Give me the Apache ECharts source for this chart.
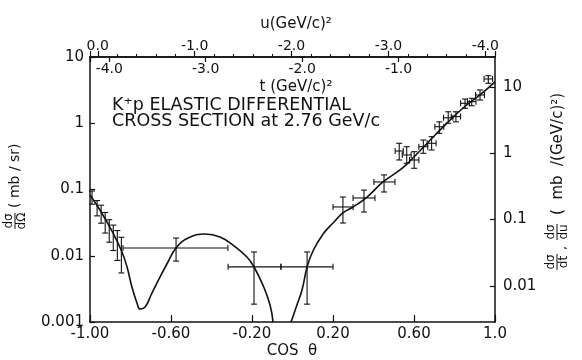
<!DOCTYPE html>
<html><head><meta charset="utf-8">
<script src="https://cdn.jsdelivr.net/npm/echarts@6/dist/echarts.min.js"></script>
<style>html,body{margin:0;padding:0;background:#fff}#c{width:582px;height:360px}</style>
</head><body><div id="c"></div>
<script>
// ---- data ----
// theoretical curve (cos theta, dσ/dΩ in mb/sr); null = curve leaves the plot
const curveCos = [-1.0, -0.951, -0.886, -0.842, -0.817, -0.793, -0.768, -0.753, -0.728, -0.694, -0.654, -0.615, -0.575, -0.516, -0.432, -0.358, -0.294, -0.225, -0.190, -0.146, -0.111, -0.096, -0.05, -0.007, 0.022, 0.047, 0.072, 0.101, 0.151, 0.200, 0.249, 0.299, 0.368, 0.447, 0.531, 0.580, 0.714, 0.842, 0.926, 1.0];
const curveVal = [0.0826, 0.049, 0.022, 0.0114, 0.00676, 0.00337, 0.00194, 0.00157, 0.00168, 0.00274, 0.00478, 0.00805, 0.0131, 0.0185, 0.0213, 0.0192, 0.0145, 0.00957, 0.00676, 0.00361, 0.00181, 0.001, null, 0.001, 0.00181, 0.00304, 0.00676, 0.0118, 0.0213, 0.0312, 0.0442, 0.0545, 0.077, 0.130, 0.197, 0.269, 0.713, 1.70, 2.67, 4.20];

// backward data points (vertical error bars only)
const backCos = [-0.99, -0.965, -0.945, -0.925, -0.905, -0.885, -0.865, -0.845];
const backVal = [0.077, 0.0526, 0.0427, 0.0323, 0.0245, 0.0199, 0.0156, 0.0118];
const backLo  = [0.060, 0.040, 0.031, 0.022, 0.016, 0.012, 0.0085, 0.0055];
const backHi  = [0.095, 0.068, 0.058, 0.045, 0.035, 0.029, 0.024, 0.019];

// wide-bin data points
const wideCos = [-0.575, -0.19, 0.072];
const wideVal = [0.0131, 0.0068, 0.0068];
const wideXLo = [-0.837, -0.318, -0.057];
const wideXHi = [-0.319, -0.057, 0.200];
const wideLo  = [0.0083, 0.00186, 0.00186];
const wideHi  = [0.0185, 0.0114, 0.0114];

// forward data points
const fwdCos = [0.249, 0.353, 0.452, 0.527, 0.564, 0.601, 0.646, 0.687, 0.725, 0.769, 0.807, 0.852, 0.885, 0.926, 0.967];
const fwdVal = [0.0545, 0.0745, 0.130, 0.381, 0.332, 0.279, 0.443, 0.498, 0.887, 1.21, 1.26, 2.0, 2.12, 2.67, 4.66];
const fwdXLo = [0.200, 0.299, 0.402, 0.507, 0.542, 0.578, 0.624, 0.665, 0.703, 0.746, 0.784, 0.830, 0.864, 0.904, 0.946];
const fwdXHi = [0.299, 0.407, 0.506, 0.547, 0.586, 0.624, 0.668, 0.709, 0.747, 0.792, 0.830, 0.874, 0.906, 0.948, 0.988];
const fwdLo  = [0.0312, 0.0457, 0.0917, 0.279, 0.249, 0.209, 0.352, 0.395, 0.705, 1.0, 1.05, 1.68, 1.84, 2.24, 4.01];
const fwdHi  = [0.077, 0.098, 0.166, 0.498, 0.443, 0.372, 0.558, 0.627, 1.05, 1.49, 1.49, 2.32, 2.38, 3.18, 5.22];

// axis tick labels
const cosTicks = ['-1.00', '-0.60', '-0.20', '0.20', '0.60', '1.0'];

// ---- build chart ----
const FONT = '"DejaVu Sans", sans-serif';
const INK = '#111';
const curveData = curveCos.map((c, i) => [c, curveVal[i] === null ? '-' : curveVal[i]]);
const errData = [];
backCos.forEach((c, i) => errData.push([c, backVal[i], c, c, backLo[i], backHi[i]]));
wideCos.forEach((c, i) => errData.push([c, wideVal[i], wideXLo[i], wideXHi[i], wideLo[i], wideHi[i]]));
fwdCos.forEach((c, i) => errData.push([c, fwdVal[i], fwdXLo[i], fwdXHi[i], fwdLo[i], fwdHi[i]]));

function isPow10(v) { const l = Math.log10(v); return Math.abs(l - Math.round(l)) < 1e-6; }
function isInt(v) { return Math.abs(v - Math.round(v)) < 1e-6; }
const axLine = { onZero: false, lineStyle: { color: INK, width: 1.5 } };
const lbl = { color: INK, fontFamily: FONT, fontSize: 14 };

const chart = echarts.init(document.getElementById('c'));
chart.setOption({
  animation: false,
  backgroundColor: '#fff',
  grid: [
    { left: 90, right: 87, top: 57, bottom: 38 },
    { left: 90, right: 87, top: 57, bottom: 38 }
  ],
  xAxis: [
    { type: 'value', gridIndex: 0, position: 'bottom', min: -1, max: 1, interval: 0.4,
      axisLine: axLine, splitLine: { show: false },
      axisTick: { inside: true, length: 7, lineStyle: { color: INK, width: 1.2 } },
      axisLabel: Object.assign({}, lbl, { fontSize: 15, margin: 5,
        formatter: v => { const k = Math.round((v + 1) / 0.4); return cosTicks[k] !== undefined && Math.abs(v - (-1 + 0.4 * k)) < 1e-6 ? cosTicks[k] : ''; } }) },
    { type: 'value', gridIndex: 0, position: 'top', min: -4.1, max: 0.08, inverse: true,
      axisLine: axLine, splitLine: { show: false },
      axisTick: { inside: false, length: 6, lineStyle: { color: INK, width: 1.2 } },
      minorTick: { show: true, splitNumber: 5, length: 3, lineStyle: { color: INK, width: 1 } },
      axisLabel: Object.assign({}, lbl, { fontSize: 14, margin: 4,
        formatter: v => isInt(v) ? Math.round(v).toFixed(1).replace('-0.0', '0.0') : '' }) },
    { type: 'value', gridIndex: 1, position: 'top', min: -4.2, max: 0,
      axisLine: axLine, splitLine: { show: false },
      axisTick: { inside: true, length: 5, lineStyle: { color: INK, width: 1.2 } },
      axisLabel: Object.assign({}, lbl, { fontSize: 14, inside: true, margin: 5, showMaxLabel: false,
        formatter: v => (isInt(v) && Math.round(v) !== 0) ? Math.round(v).toFixed(1) : '' }) }
  ],
  yAxis: [
    { type: 'log', gridIndex: 0, position: 'left', min: 0.001, max: 10, logBase: 10,
      axisLine: axLine, splitLine: { show: false },
      axisTick: { inside: true, length: 5, lineStyle: { color: INK, width: 1.2 } },
      axisLabel: Object.assign({}, lbl, { fontSize: 15, margin: 6,
        formatter: v => isPow10(v) ? String(+v.toPrecision(3)) : '' }) },
    { type: 'log', gridIndex: 0, position: 'right', min: 0.00284, max: 28.4, logBase: 10,
      axisLine: axLine, splitLine: { show: false },
      axisTick: { inside: true, length: 5, lineStyle: { color: INK, width: 1.2 } },
      axisLabel: Object.assign({}, lbl, { fontSize: 15, margin: 8, showMinLabel: false, showMaxLabel: false,
        formatter: v => isPow10(v) ? String(+v.toPrecision(3)) : '' }) },
    { type: 'value', gridIndex: 1, show: false, min: 0, max: 1, axisLine: { show: false, onZero: false } }
  ],
  series: [
    { type: 'line', xAxisIndex: 0, yAxisIndex: 0, data: curveData, showSymbol: false,
      smooth: 0.45, connectNulls: false, lineStyle: { color: INK, width: 1.6 }, z: 3 },
    { type: 'custom', xAxisIndex: 0, yAxisIndex: 0, data: errData,
      encode: { x: 0, y: 1 }, z: 4,
      renderItem: (params, api) => {
        const x = api.value(0), y = api.value(1);
        const xl = api.value(2), xh = api.value(3), yl = api.value(4), yh = api.value(5);
        const pL = api.coord([xl, y]), pR = api.coord([xh, y]);
        const pB = api.coord([x, yl]), pT = api.coord([x, yh]);
        const c = 3, st = { stroke: INK, lineWidth: 1.1 };
        const kids = [
          { type: 'line', shape: { x1: pB[0], y1: pB[1], x2: pT[0], y2: pT[1] }, style: st },
          { type: 'line', shape: { x1: pB[0] - c, y1: pB[1], x2: pB[0] + c, y2: pB[1] }, style: st },
          { type: 'line', shape: { x1: pT[0] - c, y1: pT[1], x2: pT[0] + c, y2: pT[1] }, style: st }
        ];
        if (xh > xl) {
          kids.push({ type: 'line', shape: { x1: pL[0], y1: pL[1], x2: pR[0], y2: pR[1] }, style: st });
          kids.push({ type: 'line', shape: { x1: pL[0], y1: pL[1] - c, x2: pL[0], y2: pL[1] + c }, style: st });
          kids.push({ type: 'line', shape: { x1: pR[0], y1: pR[1] - c, x2: pR[0], y2: pR[1] + c }, style: st });
        }
        return { type: 'group', children: kids };
      } }
  ],
  graphic: [
    { type: 'text', x: 112, y: 97, style: { text: 'K⁺p ELASTIC DIFFERENTIAL\nCROSS SECTION at 2.76 GeV/c',
      font: '17.5px ' + FONT, fill: INK, lineHeight: 16 } },
    { type: 'text', x: 296, y: 24, style: { text: 'u(GeV/c)²', font: '15px ' + FONT, fill: INK, align: 'center', verticalAlign: 'middle' } },
    { type: 'text', x: 296, y: 87, style: { text: 't (GeV/c)²', font: '15px ' + FONT, fill: INK, align: 'center', verticalAlign: 'middle' } },
    { type: 'text', x: 292, y: 351, style: { text: 'COS  θ', font: '15px ' + FONT, fill: INK, align: 'center', verticalAlign: 'middle' } },
    { type: 'group', x: 15, y: 221, rotation: Math.PI / 2, children: [
      { type: 'text', x: 0, y: -6, style: { text: 'dσ', font: '12px ' + FONT, fill: INK, align: 'center', verticalAlign: 'middle' } },
      { type: 'line', shape: { x1: -8, y1: 0, x2: 8, y2: 0 }, style: { stroke: INK, lineWidth: 1 } },
      { type: 'text', x: 0, y: 7, style: { text: 'dΩ', font: '12px ' + FONT, fill: INK, align: 'center', verticalAlign: 'middle' } },
      { type: 'text', x: 13, y: 0, style: { text: '( mb / sr)', font: '14px ' + FONT, fill: INK, align: 'left', verticalAlign: 'middle' } }
    ] },
    { type: 'group', x: 557, y: 262, rotation: Math.PI / 2, children: [
      { type: 'text', x: 0, y: -6, style: { text: 'dσ', font: '12px ' + FONT, fill: INK, align: 'center', verticalAlign: 'middle' } },
      { type: 'line', shape: { x1: -8, y1: 0, x2: 8, y2: 0 }, style: { stroke: INK, lineWidth: 1 } },
      { type: 'text', x: 0, y: 7, style: { text: 'dt', font: '12px ' + FONT, fill: INK, align: 'center', verticalAlign: 'middle' } },
      { type: 'text', x: 14, y: 6, style: { text: ',', font: '12px ' + FONT, fill: INK, align: 'center', verticalAlign: 'middle' } },
      { type: 'text', x: 30, y: -6, style: { text: 'dσ', font: '12px ' + FONT, fill: INK, align: 'center', verticalAlign: 'middle' } },
      { type: 'line', shape: { x1: 22, y1: 0, x2: 38, y2: 0 }, style: { stroke: INK, lineWidth: 1 } },
      { type: 'text', x: 30, y: 7, style: { text: 'du', font: '12px ' + FONT, fill: INK, align: 'center', verticalAlign: 'middle' } },
      { type: 'text', x: 47, y: 1, style: { text: '(  mb  /(GeV/c)²)', font: '15px ' + FONT, fill: INK, align: 'left', verticalAlign: 'middle' } }
    ] }
  ]
});
</script>
</body></html>
